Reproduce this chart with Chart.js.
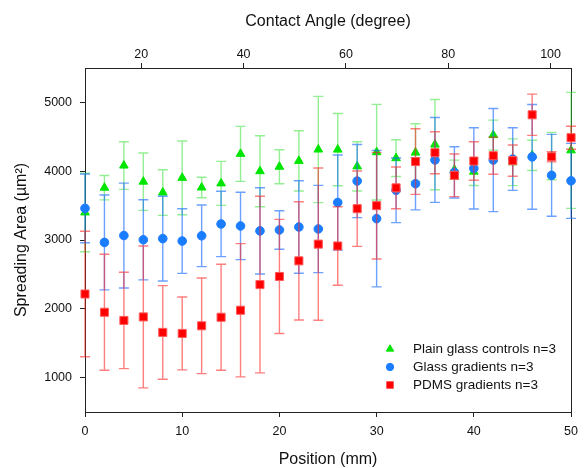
<!DOCTYPE html>
<html>
<head>
<meta charset="utf-8">
<script src="https://cdn.jsdelivr.net/npm/chart.js@4.4.1/dist/chart.umd.min.js"></script>
<style>
  html, body { margin: 0; padding: 0; background: #fff; }
  #wrap { width: 585px; height: 468px; }
</style>
</head>
<body>
<div id="wrap"><canvas id="c" width="585" height="468"></canvas></div>
<script>
// ---- data ----
const positions = [0,2,4,6,8,10,12,14,16,18,20,22,24,26,28,30,32,34,36,38,40,42,44,46,48,50];

const plainGlass    = [3400,3760,4082,3848,3690,3903,3763,3823,4252,4000,4065,4150,4315,4314,4070,4276,4190,4270,4387,4021,3993,4525,4130,4230,4220,4303];
const plainGlassErr = [570,177,346,417,332,535,148,320,400,516,247,438,772,525,358,695,268,420,656,140,200,218,340,220,344,843];

const glassGrad     = [3460,2965,3065,3003,3020,2985,3061,3233,3204,3133,3146,3189,3160,3545,3857,3310,3722,3818,4164,3983,4041,4162,4177,4208,3940,3860];
const glassGradErr  = [500,690,762,583,615,470,448,475,489,627,280,673,634,690,532,992,470,380,617,373,590,750,455,762,595,545];

const pdmsGrad      = [2215,1950,1831,1882,1657,1642,1753,1877,1979,2352,2470,2697,2940,2913,3455,3499,3758,4140,4269,3940,4148,4225,4153,4820,4210,4487];
const pdmsGradErr   = [912,843,700,1031,680,530,695,770,968,1283,830,860,1106,571,547,775,303,477,305,310,280,270,227,300,75,167];

const seriesLabels  = ['Plain glass controls n=3', 'Glass gradients n=3', 'PDMS gradients n=3'];

const positionTicks = [0,10,20,30,40,50];
const angleTicks    = [20,40,60,80,100];
const areaTicks     = [1000,2000,3000,4000,5000];

// ---- chart ----
const FONT = '"Liberation Sans", Arial, sans-serif';

function toXY(ys) { return ys.map((v, i) => ({ x: positions[i], y: v })); }

const errorBars = {
  id: 'errorBars',
  beforeDatasetDraw(chart, args) {
    const ds = chart.data.datasets[args.index];
    if (!ds.err) return;
    const ctx = chart.ctx;
    const ys = chart.scales.y;
    ctx.save();
    ctx.strokeStyle = ds.errColor;
    ctx.lineWidth = 1.4;
    args.meta.data.forEach((pt, i) => {
      const v = ds.data[i].y, e = ds.err[i];
      const x = pt.x;
      const yTop = ys.getPixelForValue(v + e);
      const yBot = ys.getPixelForValue(v - e);
      const hw = 5;
      ctx.beginPath();
      ctx.moveTo(x, yTop); ctx.lineTo(x, yBot);
      ctx.moveTo(x - hw, yTop); ctx.lineTo(x + hw, yTop);
      ctx.moveTo(x - hw, yBot); ctx.lineTo(x + hw, yBot);
      ctx.stroke();
    });
    ctx.restore();
  }
};

const legendInside = {
  id: 'legendInside',
  afterDraw(chart) {
    const ctx = chart.ctx;
    const x0 = 390, tx = 413, y0 = 349, dy = 18;
    ctx.save();
    [0, 1, 2].forEach((di, k) => {
      const ds = chart.data.datasets[di];
      const y = y0 + k * dy;
      ctx.fillStyle = ds.backgroundColor;
      ctx.strokeStyle = ds.borderColor;
      ctx.lineWidth = 1;
      if (Chart.helpers && Chart.helpers.drawPoint) {
        Chart.helpers.drawPoint(ctx, { pointStyle: ds.pointStyle, radius: ds.pointRadius * 0.85, rotation: 0, borderWidth: 1 }, x0, y);
      }
      ctx.fillStyle = '#111';
      ctx.font = '13.5px ' + FONT;
      ctx.textBaseline = 'middle';
      ctx.textAlign = 'left';
      ctx.fillText(ds.label, tx, y);
    });
    ctx.restore();
  }
};

const tickFont = { family: FONT, size: 12.5 };
const titleFont = { family: FONT, size: 16, lineHeight: 1 };
const axisColor = '#222';
const plain = v => String(v);

new Chart(document.getElementById('c'), {
  type: 'scatter',
  data: {
    datasets: [
      {
        label: seriesLabels[0], data: toXY(plainGlass), err: plainGlassErr,
        pointStyle: 'triangle', pointRadius: 5, pointHoverRadius: 5,
        backgroundColor: '#00e600', borderColor: '#00e600', borderWidth: 1,
        errColor: 'rgba(60,225,60,0.55)', order: 3, clip: false
      },
      {
        label: seriesLabels[1], data: toXY(glassGrad), err: glassGradErr,
        pointStyle: 'circle', pointRadius: 4.3, pointHoverRadius: 4.3,
        backgroundColor: '#1a7cff', borderColor: '#1a7cff', borderWidth: 1,
        errColor: 'rgba(30,110,255,0.65)', order: 2, clip: false
      },
      {
        label: seriesLabels[2], data: toXY(pdmsGrad), err: pdmsGradErr,
        pointStyle: 'rect', pointRadius: 5.7, pointHoverRadius: 5.7,
        backgroundColor: '#ff0000', borderColor: '#ff5a5a', borderWidth: 1,
        errColor: 'rgba(255,40,40,0.6)', order: 1, clip: false
      }
    ]
  },
  options: {
    responsive: false,
    animation: false,
    events: [],
    layout: { padding: 0 },
    plugins: { legend: { display: false }, tooltip: { enabled: false } },
    scales: {
      x: {
        type: 'linear', position: 'bottom', min: 0, max: 50,
        afterBuildTicks: s => { s.ticks = positionTicks.map(v => ({ value: v })); },
        afterFit: s => { s.height = 56; },
        grid: { drawOnChartArea: false, tickLength: 5, color: axisColor, tickColor: axisColor },
        border: { color: axisColor, width: 1 },
        ticks: { font: tickFont, color: '#111', padding: 7, maxRotation: 0, callback: plain },
        title: { display: true, text: 'Position (mm)', font: titleFont, color: '#111', padding: { top: 0, bottom: 0 } }
      },
      x2: {
        type: 'linear', position: 'top', min: 9, max: 104,
        afterBuildTicks: s => { s.ticks = angleTicks.map(v => ({ value: v })); },
        afterFit: s => { s.height = 68; },
        grid: { drawOnChartArea: false, tickLength: 5, color: axisColor, tickColor: axisColor },
        border: { color: axisColor, width: 1 },
        ticks: { font: tickFont, color: '#111', padding: 1, maxRotation: 0, callback: plain },
        title: { display: true, text: 'Contact Angle (degree)', font: titleFont, color: '#111', padding: { top: 14, bottom: 0 } }
      },
      y: {
        type: 'linear', position: 'left', min: 500, max: 5500,
        afterBuildTicks: s => { s.ticks = areaTicks.map(v => ({ value: v })); },
        afterFit: s => { s.width = 85; },
        grid: { drawOnChartArea: false, tickLength: 5, color: axisColor, tickColor: axisColor },
        border: { color: axisColor, width: 1 },
        ticks: { font: tickFont, color: '#111', padding: 8, callback: plain },
        title: { display: true, text: 'Spreading Area (µm²)', font: titleFont, color: '#111', padding: { top: 14, bottom: 0 } }
      },
      y2: {
        type: 'linear', position: 'right', min: 500, max: 5500,
        afterFit: s => { s.width = 9; },
        grid: { drawOnChartArea: false, drawTicks: false },
        border: { color: axisColor, width: 1 },
        ticks: { display: false }
      }
    }
  },
  plugins: [errorBars, legendInside]
});
</script>
</body>
</html>
